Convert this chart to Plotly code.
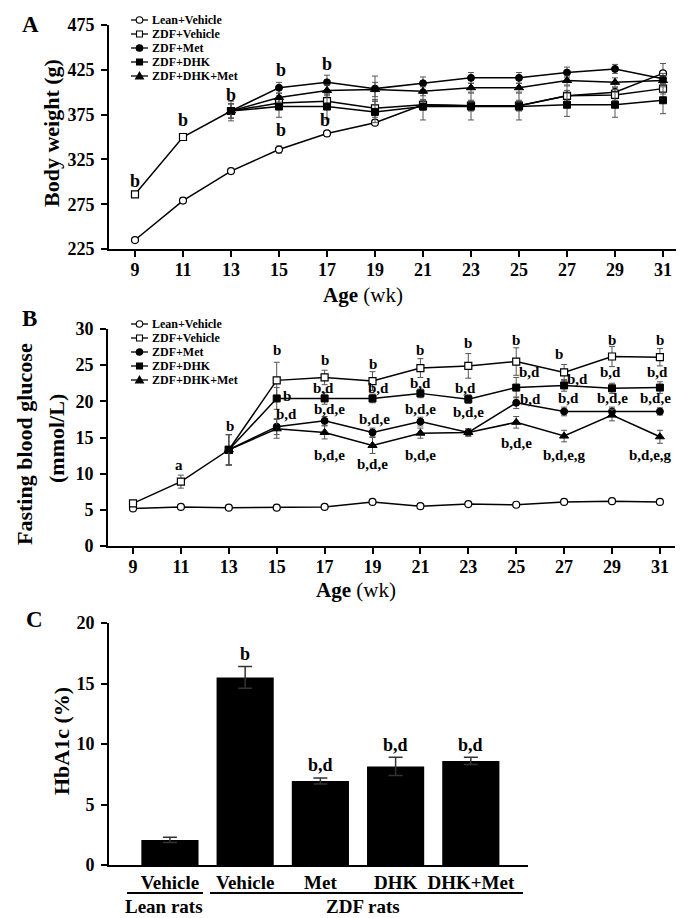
import plotly.graph_objects as go

# ---------------- data ----------------
weeks = [9, 11, 13, 15, 17, 19, 21, 23, 25, 27, 29, 31]
groups = ["Lean+Vehicle", "ZDF+Vehicle", "ZDF+Met", "ZDF+DHK", "ZDF+DHK+Met"]

# Panel A: body weight (g)  (treatment groups start at week 13)
bw_lean = [235, 279, 312, 336, 354, 366, 386, 385, 385, 396, 400, 421]
bw_zdf_veh = [286, 350, 379, 388, 390, 382, 386, 385, 385, 396, 397, 404]
bw_met = [None, None, 379, 405, 411, 404, 410, 416, 416, 422, 426, 415]
bw_dhk = [None, None, 379, 384, 384, 378, 384, 384, 384, 386, 386, 391]
bw_dhk_met = [None, None, 379, 394, 402, 403, 401, 405, 405, 413, 411, 413]
bw_lean_err = [2, 3, 3, 4, 3, 3, 5, 5, 5, 6, 5, 11]
bw_zdf_veh_err = [2, 3, 8, 6, 8, 10, 6, 6, 6, 11, 6, 6]
bw_met_err = [0, 0, 8, 6, 8, 14, 7, 6, 6, 6, 5, 6]
bw_dhk_err = [0, 0, 11, 12, 14, 12, 15, 15, 15, 13, 14, 15]
bw_dhk_met_err = [0, 0, 8, 5, 6, 8, 5, 5, 5, 5, 5, 5]

# Panel B: fasting blood glucose (mmol/L)
fbg_lean = [5.2, 5.4, 5.3, 5.3, 5.4, 6.1, 5.5, 5.8, 5.7, 6.1, 6.2, 6.1]
fbg_zdf_veh = [5.9, 8.9, 13.3, 22.9, 23.3, 22.8, 24.6, 24.9, 25.5, 24.0, 26.2, 26.1]
fbg_met = [None, None, 13.3, 16.5, 17.3, 15.7, 17.2, 15.7, 19.8, 18.6, 18.6, 18.6]
fbg_dhk = [None, None, 13.3, 20.4, 20.4, 20.4, 21.1, 20.3, 21.9, 22.2, 21.8, 21.9]
fbg_dhk_met = [None, None, 13.3, 16.2, 15.7, 13.9, 15.6, 15.7, 17.1, 15.2, 18.1, 15.1]
fbg_lean_err = [0.2, 0.2, 0.2, 0.2, 0.2, 0.2, 0.2, 0.2, 0.2, 0.2, 0.2, 0.2]
fbg_zdf_veh_err = [0.3, 0.9, 2.1, 2.5, 1.0, 1.3, 1.3, 1.7, 1.9, 1.1, 1.4, 1.2]
fbg_met_err = [0, 0, 2.1, 1.1, 0.6, 0.6, 0.6, 0.5, 0.8, 0.6, 0.6, 0.5]
fbg_dhk_err = [0, 0, 2.1, 1.5, 0.8, 0.6, 0.6, 0.6, 1.4, 0.8, 0.7, 0.8]
fbg_dhk_met_err = [0, 0, 2.1, 1.3, 0.9, 1.1, 0.7, 0.5, 0.8, 0.8, 0.8, 0.9]

# Panel C: HbA1c (%)
c_labels = ["Vehicle", "Vehicle", "Met", "DHK", "DHK+Met"]
c_values = [2.07, 15.5, 6.95, 8.15, 8.6]
c_errors = [0.22, 0.9, 0.25, 0.75, 0.3]
c_sig_text = ["", "b", "b,d", "b,d", "b,d"]
c_sig_y = [0, 17.4, 8.3, 9.9, 9.9]
c_group_labels = ["Lean rats", "ZDF rats"]

# significance letters (text, week, value)
a_sig_text = ["b", "b", "b", "b", "b", "b", "b"]
a_sig_x = [9, 11, 13, 15.1, 17, 15.1, 16.9]
a_sig_y = [301, 369, 397, 425, 431, 358, 369]

b_sig_text = ["a", "b", "b", "b", "b", "b", "b", "b", "b", "b", "b",
              "b", "b,d",
              "b,d", "b,d,e", "b,d,e",
              "b,d", "b,d,e", "b,d,e",
              "b,d", "b,d,e", "b,d,e",
              "b,d", "b,d,e",
              "b,d", "b,d", "b,d,e",
              "b,d", "b,d", "b,d,e,g",
              "b,d", "b,d,e",
              "b,d", "b,d,e", "b,d,e,g"]
b_sig_x = [10.9, 13.05, 15, 17, 19, 21, 23, 25, 26.8, 29, 31,
           15.45, 15.4,
           16.95, 17.2, 17.2,
           19.25, 19.1, 19.0,
           21.0, 21.0, 21.0,
           22.9, 23.0,
           25.55, 25.6, 25.0,
           27.56, 27.17, 27.0,
           28.95, 29.0,
           30.9, 30.8, 30.6]
b_sig_y = [11.2, 16.6, 27.1, 25.7, 25.2, 27.1, 28.0, 28.5, 26.5, 28.5, 28.5,
           20.8, 18.3,
           21.8, 18.9, 12.6,
           21.8, 17.6, 11.3,
           22.6, 19.0, 12.6,
           21.8, 18.5,
           24.1, 20.3, 14.2,
           23.1, 20.4, 12.6,
           24.0, 20.4,
           24.0, 20.4, 12.6]

# ---------------- style ----------------
SERIF = "Liberation Serif, Times New Roman, serif"
W, H = 684, 918


def px(xpix):
    return xpix / W


def py(ypix):
    return 1 - ypix / H


fig = go.Figure()

markers = [
    dict(symbol="circle", color="white", size=7, line=dict(color="black", width=1.2)),
    dict(symbol="square", color="white", size=7, line=dict(color="black", width=1.2)),
    dict(symbol="circle", color="black", size=7, line=dict(color="black", width=1)),
    dict(symbol="square", color="black", size=7, line=dict(color="black", width=1)),
    dict(symbol="triangle-up", color="black", size=8, line=dict(color="black", width=1)),
]

a_series = [bw_lean, bw_zdf_veh, bw_met, bw_dhk, bw_dhk_met]
a_errs = [bw_lean_err, bw_zdf_veh_err, bw_met_err, bw_dhk_err, bw_dhk_met_err]
b_series = [fbg_lean, fbg_zdf_veh, fbg_met, fbg_dhk, fbg_dhk_met]
b_errs = [fbg_lean_err, fbg_zdf_veh_err, fbg_met_err, fbg_dhk_err, fbg_dhk_met_err]

for name, ys, es, mk in zip(groups, a_series, a_errs, markers):
    fig.add_trace(go.Scatter(
        x=weeks, y=ys, name=name, mode="lines+markers",
        line=dict(color="black", width=1.5), marker=mk,
        error_y=dict(type="data", array=es, color="#555555", thickness=1, width=3),
        xaxis="x", yaxis="y", showlegend=False, cliponaxis=False))

for name, ys, es, mk in zip(groups, b_series, b_errs, markers):
    fig.add_trace(go.Scatter(
        x=weeks, y=ys, name=name, mode="lines+markers",
        line=dict(color="black", width=1.5), marker=mk,
        error_y=dict(type="data", array=es, color="#555555", thickness=1, width=3),
        xaxis="x2", yaxis="y2", showlegend=False, cliponaxis=False))

c_idx = list(range(len(c_labels)))
fig.add_trace(go.Bar(
    x=c_idx, y=c_values, width=0.76, marker=dict(color="black", line=dict(width=0)),
    error_y=dict(type="data", array=c_errors, color="#333333", thickness=1.5, width=7),
    xaxis="x3", yaxis="y3", showlegend=False))

tickfont = dict(family=SERIF, size=18, color="black", weight="bold")
axis_common = dict(showline=True, linecolor="black", linewidth=2, ticks="outside",
                   ticklen=6, tickwidth=2, tickcolor="black", showgrid=False,
                   zeroline=False, tickfont=tickfont, automargin=False)

fig.update_layout(
    width=W, height=H, margin=dict(l=0, r=0, t=0, b=0),
    paper_bgcolor="white", plot_bgcolor="white", template="none",
    font=dict(family=SERIF, color="black"), showlegend=False,
    xaxis=dict(domain=[px(101), px(678)], range=[7.917, 31.958], tickvals=weeks,
               anchor="y", ticklabelstandoff=-3, **axis_common),
    yaxis=dict(domain=[py(241), py(17)], range=[225, 475],
               tickvals=[225, 275, 325, 375, 425, 475], anchor="x",
               ticklabelstandoff=3, **axis_common),
    xaxis2=dict(domain=[px(100), px(667)], range=[7.956, 31.63], tickvals=weeks,
                anchor="y2", ticklabelstandoff=-3, **axis_common),
    yaxis2=dict(domain=[py(538), py(321)], range=[0, 30],
                tickvals=[0, 5, 10, 15, 20, 25, 30], anchor="x2",
                ticklabelstandoff=3, **axis_common),
    xaxis3=dict(domain=[px(101), px(520)], range=[-0.81, 4.76], tickvals=c_idx,
                ticktext=c_labels, anchor="y3", ticklabelstandoff=-1,
                **{**axis_common, "ticks": "",
                   "tickfont": dict(family=SERIF, size=19, color="black", weight="bold")}),
    yaxis3=dict(domain=[py(857), py(615)], range=[0, 20],
                tickvals=[0, 5, 10, 15, 20], anchor="x3",
                ticklabelstandoff=3, **axis_common),
)

ann = []
shapes = []


def paper_text(text, xpix, ypix, size, angle=0, bold=True, xanchor="center"):
    ann.append(dict(text=text, x=px(xpix), y=py(ypix), xref="paper", yref="paper",
                    xanchor=xanchor, yanchor="middle", showarrow=False, textangle=angle,
                    font=dict(family=SERIF, size=size, color="black",
                              weight="bold" if bold else "normal")))


# panel letters
paper_text("A", 22, 17, 23)
paper_text("B", 21, 310, 23)
paper_text("C", 26, 611, 23)
# axis titles
paper_text("Body weight (g)", 43, 125, 22, angle=-90)
paper_text("Fasting blood glucose", 17, 436, 22, angle=-90)
paper_text("(mmol/L)", 48, 431, 22, angle=-90)
paper_text("HbA1c (%)", 53, 733, 22, angle=-90)
paper_text("<b>Age</b> (wk)", 355, 287, 21, bold=False)
paper_text("<b>Age</b> (wk)", 348, 582, 21, bold=False)
paper_text(c_group_labels[0], 156, 898, 19)
paper_text(c_group_labels[1], 355, 898, 19)

# custom compact legends (keys drawn as shapes)
key_kinds = [("circle", "white"), ("square", "white"), ("circle", "black"),
             ("square", "black"), ("triangle", "black")]


def add_legend(top_row_y):
    for i, (name, (kind, fill)) in enumerate(zip(groups, key_kinds)):
        yrow = top_row_y + 14 * i
        shapes.append(dict(type="line", xref="paper", yref="paper",
                           x0=px(123), x1=px(140), y0=py(yrow), y1=py(yrow),
                           line=dict(color="black", width=1.3)))
        common = dict(xref="paper", yref="paper", xsizemode="pixel", ysizemode="pixel",
                      xanchor=px(131.5), yanchor=py(yrow), fillcolor=fill,
                      line=dict(color="black", width=1.1))
        if kind == "circle":
            shapes.append(dict(type="circle", x0=-3.3, x1=3.3, y0=-3.3, y1=3.3, **common))
        elif kind == "square":
            shapes.append(dict(type="rect", x0=-3, x1=3, y0=-3, y1=3, **common))
        else:
            shapes.append(dict(type="path", path="M -4,-3 L 4,-3 L 0,4 Z", **common))
        paper_text(name, 142, yrow, 12, xanchor="left")


add_legend(12)
add_legend(316)

for t, x, y in zip(a_sig_text, a_sig_x, a_sig_y):
    ann.append(dict(text=t, x=x, y=y, xref="x", yref="y", showarrow=False,
                    xanchor="center", yanchor="middle",
                    font=dict(family=SERIF, size=18, color="black", weight="bold")))
for t, x, y in zip(b_sig_text, b_sig_x, b_sig_y):
    ann.append(dict(text=t, x=x, y=y, xref="x2", yref="y2", showarrow=False,
                    xanchor="center", yanchor="middle",
                    font=dict(family=SERIF, size=15, color="black", weight="bold")))
for t, x, y in zip(c_sig_text, c_idx, c_sig_y):
    if t:
        ann.append(dict(text=t, x=x, y=y, xref="x3", yref="y3", showarrow=False,
                        xanchor="center", yanchor="middle",
                        font=dict(family=SERIF, size=18, color="black", weight="bold")))

# group underline bars in panel C
shapes.append(dict(type="line", xref="paper", yref="paper", x0=px(119), x1=px(195),
                   y0=py(885), y1=py(885), line=dict(color="black", width=2)))
shapes.append(dict(type="line", xref="paper", yref="paper", x0=px(202), x1=px(515),
                   y0=py(885), y1=py(885), line=dict(color="black", width=2)))

fig.update_layout(annotations=ann, shapes=shapes)

fig.write_html("out.html")
